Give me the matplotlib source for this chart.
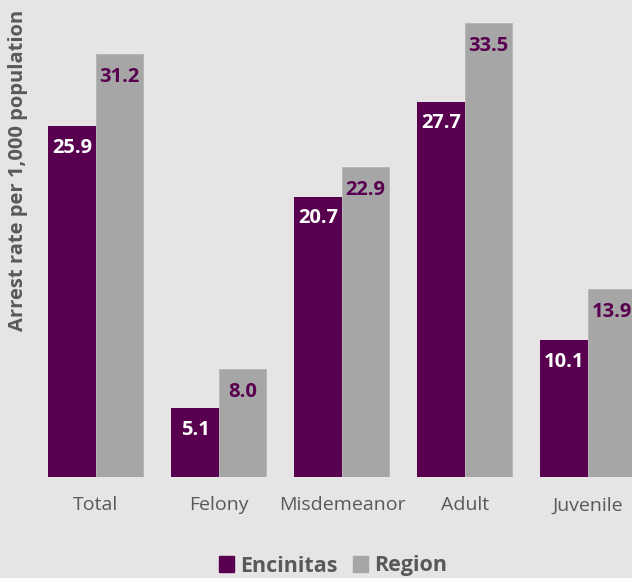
import matplotlib.pyplot as plt
from matplotlib.patches import Patch
import numpy as np

categories = ['Total', 'Felony', 'Misdemeanor', 'Adult', 'Juvenile']
encinitas = [25.9, 5.1, 20.7, 27.7, 10.1]
region = [31.2, 8.0, 22.9, 33.5, 13.9]

bg = '#e6e4e5'
purple = '#58004f'
gray = '#a6a6a6'
text_gray = '#595959'

plt.rcParams['font.family'] = ['Open Sans', 'DejaVu Sans']

fig = plt.figure(figsize=(6.32, 5.78), dpi=100, facecolor=bg)
ax = fig.add_axes([0, 101 / 578, 1, 477 / 578], facecolor=bg)

x = np.arange(len(categories))
w = 0.386
b1 = ax.bar(x - w / 2, encinitas, w, color=purple)
b2 = ax.bar(x + w / 2, region, w, color=gray, edgecolor='#b4b4b4', linewidth=0.6)

# value labels just inside the top of each bar
for rect, v in zip(b1, encinitas):
    ax.text(rect.get_x() + rect.get_width() / 2, v - 1.6, f'{v:.1f}',
            ha='center', va='center', color='white', fontsize=14.5, fontweight='bold')
for rect, v in zip(b2, region):
    ax.text(rect.get_x() + rect.get_width() / 2, v - 1.7, f'{v:.1f}',
            ha='center', va='center', color=purple, fontsize=14.5, fontweight='bold')

ax.set_xlim(-0.780, 4.358)
ax.set_ylim(0, 477 / 13.55)
ax.set_xticks(x)
ax.set_xticklabels(categories, fontsize=14, color=text_gray)
ax.tick_params(axis='x', length=0, pad=14)
ax.set_yticks([])
for s in ax.spines.values():
    s.set_visible(False)

fig.text(18 / 632, 1 - 170 / 578, 'Arrest rate per 1,000 population', rotation=90,
         ha='center', va='center', fontsize=14.5, fontweight='bold', color=text_gray)

handles = [Patch(color=purple, label='Encinitas'), Patch(color=gray, label='Region')]
fig.legend(handles=handles, loc='center', bbox_to_anchor=(333 / 632, 1 - 566 / 578),
           ncol=2, frameon=False, handlelength=0.7, handleheight=0.7,
           handletextpad=0.3, columnspacing=0.7,
           prop={'size': 15.5, 'weight': 'bold'}, labelcolor=text_gray)

fig.savefig('out.png', dpi=100, facecolor=bg)
